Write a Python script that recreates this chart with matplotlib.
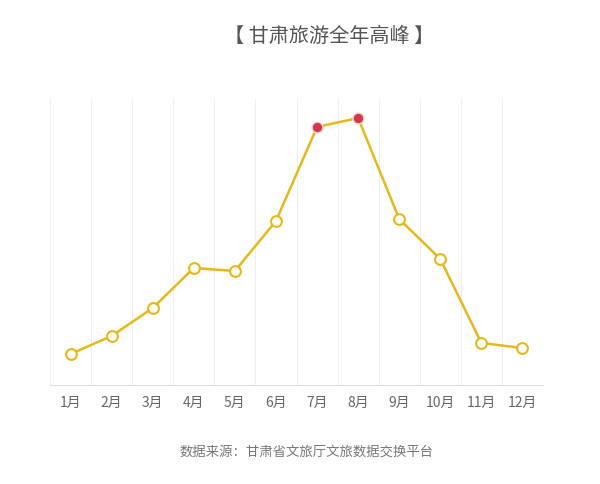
import matplotlib.pyplot as plt
import numpy as np

plt.rcParams['font.family'] = ['Noto Sans CJK SC', 'DejaVu Sans']

months = ['1月', '2月', '3月', '4月', '5月', '6月', '7月', '8月', '9月', '10月', '11月', '12月']
# relative visitor level (no y scale shown)
values = [31, 49, 77, 117, 114, 164, 258, 267, 166, 126, 42, 37]
peak_months = ['7月', '8月']

line_color = '#E6B81C'
peak_color = '#D2384C'

fig = plt.figure(figsize=(6, 4.85), dpi=100)
ax = fig.add_axes([50 / 600, 1 - 386 / 485, 493 / 600, 286 / 485])

x = np.arange(len(months))
ax.plot(x, values, color=line_color, linewidth=1.8, zorder=3)
normal = [i for i, m in enumerate(months) if m not in peak_months]
peaks = [i for i, m in enumerate(months) if m in peak_months]
ax.scatter(x[normal], [values[i] for i in normal], s=60, facecolor='white',
           edgecolor=line_color, linewidth=1.5, zorder=4)
ax.scatter(x[peaks], [values[i] for i in peaks], s=60, facecolor=peak_color,
           edgecolor='#F6D0D4', linewidth=1, zorder=4)

ax.set_xlim(-0.5, len(months) - 0.5)
ax.set_ylim(0, 286)
ax.set_xticks(x)
ax.set_xticklabels(months, fontsize=10, color='#666666')
ax.set_yticks([])
ax.tick_params(axis='x', length=0, pad=7)

for b in np.arange(-0.5, len(months), 1):
    ax.axvline(b, color='#EEEEEE', linewidth=0.8, zorder=1)

for side in ['top', 'right', 'left']:
    ax.spines[side].set_visible(False)
ax.spines['bottom'].set_color('#DDDDDD')

fig.text(329 / 600, 1 - 36 / 485, '【 甘肃旅游全年高峰 】', ha='center', va='center',
         fontsize=14.5, color='#555555')
fig.text(307 / 600, 1 - 452 / 485, '数据来源：甘肃省文旅厅文旅数据交换平台', ha='center', va='center',
         fontsize=9.6, color='#777777')

fig.savefig('out.png', dpi=100)
